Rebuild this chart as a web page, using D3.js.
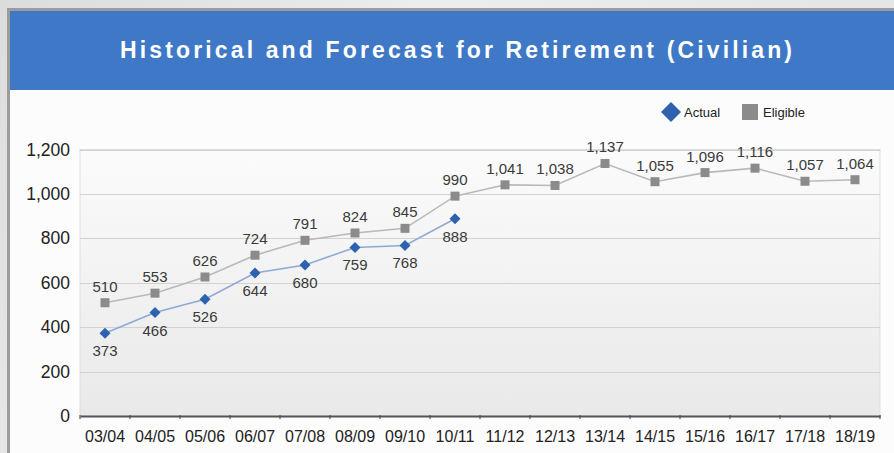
<!DOCTYPE html>
<html>
<head>
<meta charset="utf-8">
<script src="https://cdn.jsdelivr.net/npm/d3@7/dist/d3.min.js"></script>
<style>
  html, body { margin: 0; padding: 0; background: #e6e6e6; }
  svg { display: block; font-family: "Liberation Sans", Arial, Helvetica, sans-serif; }
</style>
</head>
<body>
<svg id="chart" width="894" height="453"></svg>
<script>
// Fiscal years on the x axis
const years = ["03/04","04/05","05/06","06/07","07/08","08/09","09/10","10/11",
               "11/12","12/13","13/14","14/15","15/16","16/17","17/18","18/19"];
// Retirements that actually happened (historical years only)
const actual = [373, 466, 526, 644, 680, 759, 768, 888];
// Staff eligible to retire (historical + forecast)
const eligible = [510, 553, 626, 724, 791, 824, 845, 990, 1041, 1038, 1137, 1055, 1096, 1116, 1057, 1064];
const yTicks = [0, 200, 400, 600, 800, 1000, 1200];
const titleText = "Historical and Forecast for Retirement (Civilian)";

const svg = d3.select("#chart");
const W = 894, H = 453;
const plot = { left: 80, right: 880, top: 149.5, bottom: 416 };

const defs = svg.append("defs");
const bgGrad = defs.append("linearGradient").attr("id", "bgGrad")
  .attr("x1", 0).attr("y1", 0).attr("x2", 1).attr("y2", 0.3);
bgGrad.append("stop").attr("offset", "0%").attr("stop-color", "#dcdcdc");
bgGrad.append("stop").attr("offset", "45%").attr("stop-color", "#ededed");
bgGrad.append("stop").attr("offset", "100%").attr("stop-color", "#e4e4e4");
const plotGrad = defs.append("linearGradient").attr("id", "plotGrad")
  .attr("x1", 0).attr("y1", 0).attr("x2", 0).attr("y2", 1);
plotGrad.append("stop").attr("offset", "0%").attr("stop-color", "#fbfbfb");
plotGrad.append("stop").attr("offset", "100%").attr("stop-color", "#e9e9e9");

// page backdrop
svg.append("rect").attr("width", W).attr("height", H).attr("fill", "url(#bgGrad)");

// card with grey frame
svg.append("rect").attr("x", 8.5).attr("y", 9.5).attr("width", W).attr("height", H)
  .attr("fill", "#fcfcfc").attr("stroke", "#9c9c9c").attr("stroke-width", 3);

// title banner
svg.append("rect").attr("x", 10).attr("y", 11).attr("width", W - 10).attr("height", 79)
  .attr("fill", "#3e78c6");
const title = svg.append("text")
  .attr("x", 456).attr("y", 58)
  .attr("text-anchor", "middle")
  .attr("fill", "#ffffff")
  .attr("font-weight", "bold")
  .attr("font-size", 23)
  .text(titleText);
// spread the title to its banner width
const natural = title.node().getComputedTextLength();
const spacing = (672 - natural) / (titleText.length - 1);
if (spacing > 0) title.attr("letter-spacing", spacing).attr("x", 456 + spacing / 2);

// scales
const x = d3.scaleBand().domain(years).range([plot.left, plot.right]);
const y = d3.scaleLinear().domain([0, 1200]).range([plot.bottom, plot.top]);
const cx = d => x(d) + x.bandwidth() / 2;

// plot area
svg.append("rect")
  .attr("x", plot.left).attr("y", plot.top)
  .attr("width", plot.right - plot.left).attr("height", plot.bottom - plot.top)
  .attr("fill", "url(#plotGrad)")
  .attr("stroke", "#dddddd").attr("stroke-width", 1);

// horizontal gridlines
svg.append("g")
  .selectAll("line")
  .data(yTicks.filter(t => t > 0))
  .join("line")
  .attr("x1", plot.left).attr("x2", plot.right)
  .attr("y1", d => Math.round(y(d)) + 0.5).attr("y2", d => Math.round(y(d)) + 0.5)
  .attr("stroke", "#d2d2d2").attr("stroke-width", 1.2);

// y axis labels
const yAxis = svg.append("g")
  .attr("transform", `translate(${plot.left},0)`)
  .call(d3.axisLeft(y).tickValues(yTicks).tickFormat(d3.format(",")).tickSize(0).tickPadding(10));
yAxis.select(".domain").remove();
yAxis.selectAll("text").attr("font-size", 17.5).attr("fill", "#222")
  .attr("font-family", "Liberation Sans, Arial, sans-serif");

// x axis
const xAxis = svg.append("g")
  .attr("transform", `translate(0,${plot.bottom})`)
  .call(d3.axisBottom(x).tickSize(0).tickPadding(15));
xAxis.select(".domain").attr("stroke", "#555").attr("stroke-width", 2);
xAxis.selectAll("text").attr("font-size", 16).attr("fill", "#222")
  .attr("font-family", "Liberation Sans, Arial, sans-serif");
// tick marks on band boundaries
svg.append("g")
  .selectAll("line")
  .data(d3.range(years.length + 1))
  .join("line")
  .attr("x1", i => plot.left + i * x.step()).attr("x2", i => plot.left + i * x.step())
  .attr("y1", plot.bottom - 1).attr("y2", plot.bottom + 3)
  .attr("stroke", "#555").attr("stroke-width", 1.2);

// series lines
const eligibleData = eligible.map((v, i) => ({ year: years[i], v }));
const actualData = actual.map((v, i) => ({ year: years[i], v }));
const line = d3.line().x(d => cx(d.year)).y(d => y(d.v));

svg.append("path").datum(eligibleData).attr("d", line)
  .attr("fill", "none").attr("stroke", "#b9b9b9").attr("stroke-width", 1.6);
svg.append("path").datum(actualData).attr("d", line)
  .attr("fill", "none").attr("stroke", "#8fa9d4").attr("stroke-width", 1.6);

// eligible markers
svg.append("g").selectAll("rect").data(eligibleData).join("rect")
  .attr("x", d => cx(d.year) - 4.5).attr("y", d => y(d.v) - 4.5)
  .attr("width", 9).attr("height", 9).attr("fill", "#8b8b8b");

// actual markers (diamonds)
const diamond = d3.symbol().type(d3.symbolSquare).size(60);
svg.append("g").selectAll("path").data(actualData).join("path")
  .attr("d", diamond)
  .attr("transform", d => `translate(${cx(d.year)},${y(d.v)}) rotate(45)`)
  .attr("fill", "#2d62b0");

// value labels
const fmt = d3.format(",");
svg.append("g").selectAll("text").data(eligibleData).join("text")
  .attr("x", d => cx(d.year)).attr("y", d => y(d.v) - 11)
  .attr("text-anchor", "middle").attr("font-size", 15).attr("fill", "#3a3a3a")
  .text(d => fmt(d.v));
svg.append("g").selectAll("text").data(actualData).join("text")
  .attr("x", d => cx(d.year)).attr("y", d => y(d.v) + 23)
  .attr("text-anchor", "middle").attr("font-size", 15).attr("fill", "#3a3a3a")
  .text(d => fmt(d.v));

// legend
const legend = svg.append("g").attr("font-size", 13).attr("fill", "#222");
legend.append("path")
  .attr("d", d3.symbol().type(d3.symbolSquare).size(200))
  .attr("transform", "translate(671,112) rotate(45)")
  .attr("fill", "#2d62b0");
legend.append("text").attr("x", 684).attr("y", 117).text("Actual");
legend.append("rect").attr("x", 742).attr("y", 104).attr("width", 16).attr("height", 16)
  .attr("fill", "#8b8b8b");
legend.append("text").attr("x", 763).attr("y", 117).text("Eligible");
</script>
</body>
</html>
